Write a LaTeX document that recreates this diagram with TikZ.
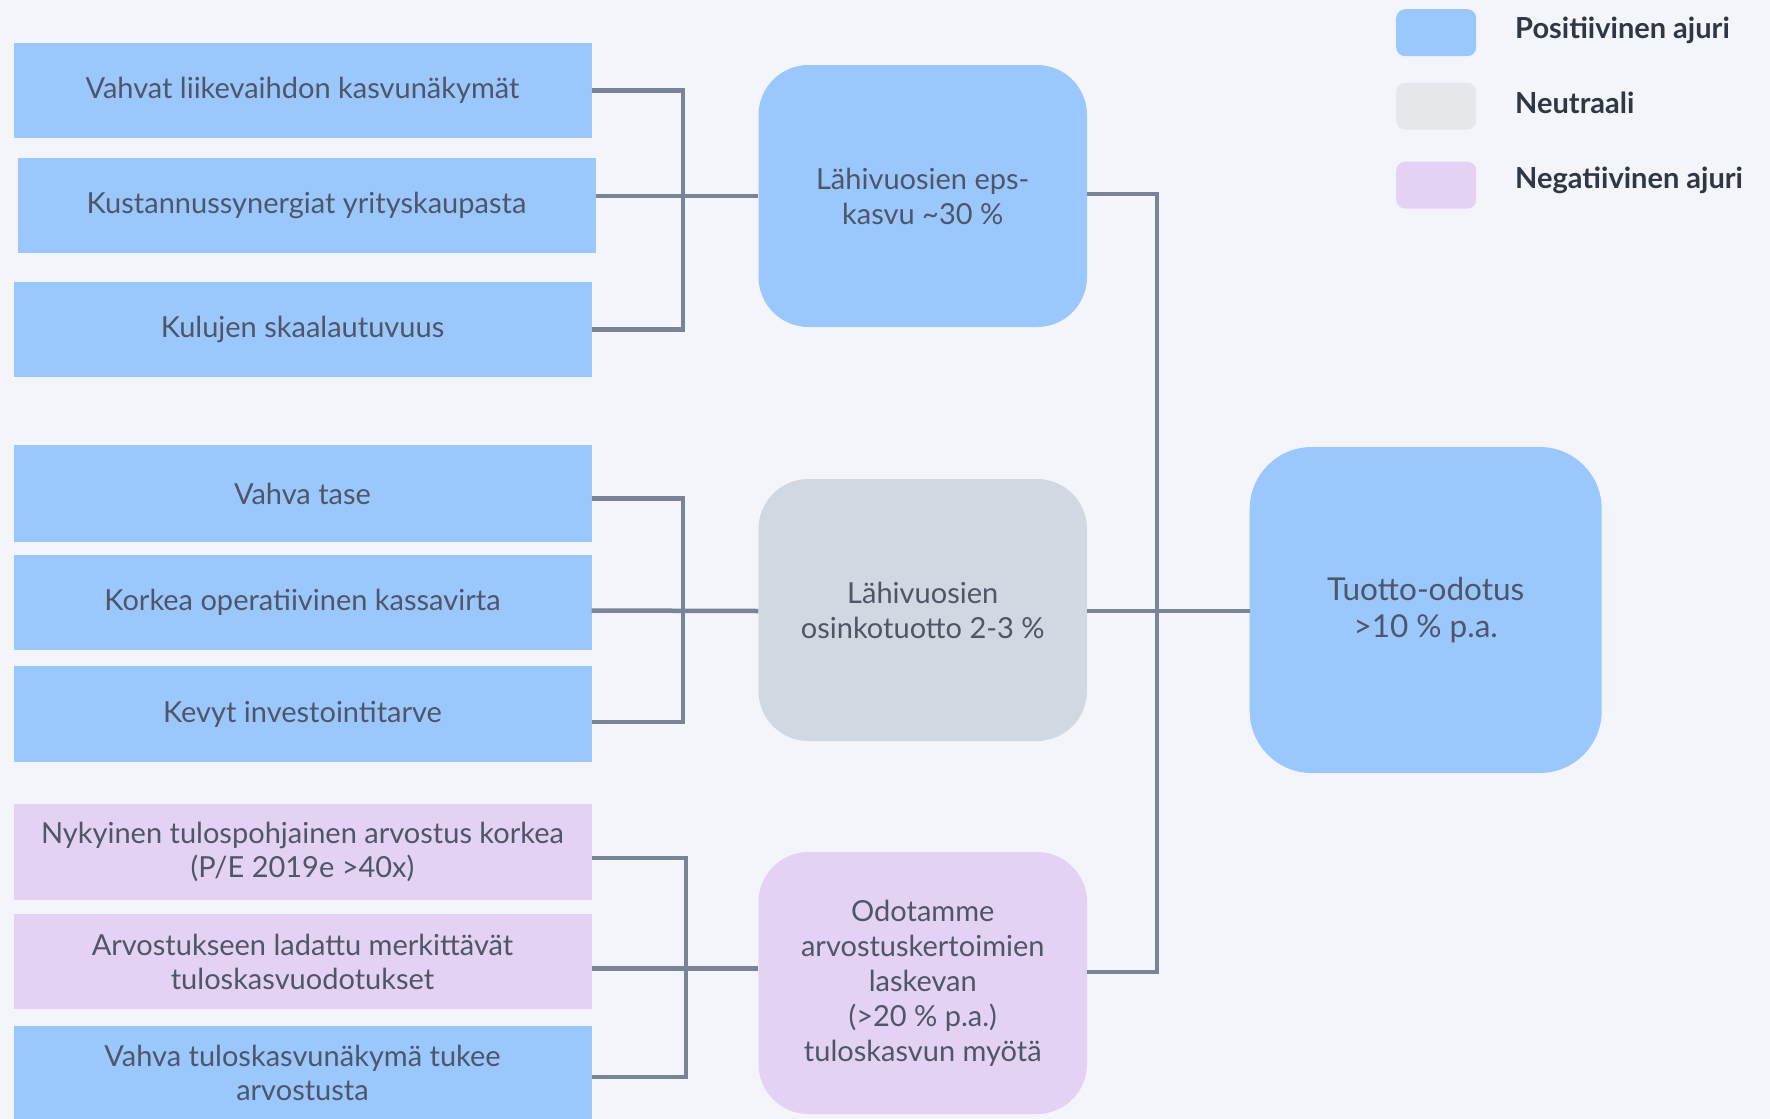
\documentclass[tikz,border=0pt]{standalone}
\usepackage{fontspec}
\setmainfont{Lato}
\definecolor{bg}{HTML}{F3F5FA}
\definecolor{pos}{HTML}{9AC8FE}
\definecolor{neu}{HTML}{D1D8E1}
\definecolor{neuleg}{HTML}{E5E7EB}
\definecolor{neg}{HTML}{E4D2F4}
\definecolor{txt}{HTML}{4E5667}
\definecolor{legtxt}{HTML}{2E3743}
\definecolor{ln}{HTML}{7A8398}
\tikzset{
  lbox/.style={rectangle, inner sep=0pt, minimum width=578pt, minimum height=95pt, align=center, text=txt, font=\fontsize{29}{34}\selectfont},
  mbox/.style={rectangle, rounded corners=50pt, inner sep=0pt, minimum width=328.5pt, minimum height=262pt, align=center, text=txt, font=\fontsize{29}{35}\selectfont},
  conn/.style={draw=ln, line width=4.5pt},
  swatch/.style={rectangle, rounded corners=9pt, inner sep=0pt, minimum width=80pt, minimum height=47pt},
  legtext/.style={anchor=west, inner sep=0pt, text=legtxt, font=\fontsize{29}{32}\selectfont\bfseries},
}
\begin{document}
\begin{tikzpicture}[x=1pt,y=-1pt]
\useasboundingbox (0,0) rectangle (1770,1119);
\fill[bg] (0,0) rectangle (1770,1119);

% left boxes
\node[lbox, fill=pos] (b1) at (302.5,90.5) {Vahvat liikevaihdon kasvunäkymät};
\node[lbox, fill=pos] (b2) at (306.5,205.5) {Kustannussynergiat yrityskaupasta};
\node[lbox, fill=pos] (b3) at (302.5,329.5) {Kulujen skaalautuvuus};
\node[lbox, fill=pos, minimum height=97pt] (b4) at (302.5,493.5) {Vahva tase};
\node[lbox, fill=pos] (b5) at (302.5,602.5) {Korkea operatiivinen kassavirta};
\node[lbox, fill=pos, minimum height=96pt] (b6) at (302.5,714) {Kevyt investointitarve};
\node[lbox, fill=neg, minimum height=96pt] (b7) at (302.5,852) {Nykyinen tulospohjainen arvostus korkea\\(P/E 2019e >40x)};
\node[lbox, fill=neg] (b8) at (302.5,961.5) {Arvostukseen ladattu merkittävät\\tuloskasvuodotukset};
\node[lbox, fill=pos, minimum height=93pt] (b9) at (302.5,1072.5) {Vahva tuloskasvunäkymä tukee\\arvostusta};

% middle boxes
\node[mbox, fill=pos] (m1) at (922.75,196) {Lähivuosien eps-\\kasvu \char`~30 \%};
\node[mbox, fill=neu] (m2) at (922.75,610) {Lähivuosien\\osinkotuotto 2-3 \%};
\node[mbox, fill=neg] (m3) at (922.75,983) {Odotamme\\arvostuskertoimien\\laskevan\\(>20 \% p.a.)\\tuloskasvun myötä};

% right box
\node[rectangle, rounded corners=62pt, inner sep=0pt, minimum width=352pt, minimum height=326pt, align=center, text=txt, font=\fontsize{31.5}{37}\selectfont, fill=pos] (r) at (1425.7,610) {Tuotto-odotus\\>10 \% p.a.};

% junctions
\coordinate (j1) at (683,196);
\coordinate (j2) at (683,611);
\coordinate (j3) at (686,968.5);
\coordinate (j4) at (1157,611);

% group 1
\draw[conn] (b1.east) -| (j1) |- (b3.east);
\draw[conn] (b2.east |- j1) -- (m1.west |- j1);
% group 2
\draw[conn] ([yshift=-5pt]b4.east) -| (j2) |- ([yshift=-8pt]b6.east);
\draw[conn] ([yshift=-8pt]b5.east) -- (m2.west |- j2);
% group 3
\draw[conn] ([yshift=-6pt]b7.east) -| (j3) |- ([yshift=-4.5pt]b9.east);
\draw[conn] ([yshift=-7pt]b8.east) -- (m3.west |- j3);
% right
\draw[conn] ([yshift=2pt]m1.east) -| (j4) |- ([yshift=11pt]m3.east);
\draw[conn] (m2.east |- j4) -- (r.west |- j4);

% legend
\node[swatch, fill=pos] (s1) at (1436.2,32.7) {};
\node[swatch, fill=neuleg] (s2) at (1436.2,106.1) {};
\node[swatch, fill=neg] (s3) at (1436.2,185.1) {};
\node[legtext] (l1) at (1515,30.5) {Positiivinen ajuri};
\node[legtext] (l2) at (1515,102.7) {Neutraali};
\node[legtext] (l3) at (1515,180.6) {Negatiivinen ajuri};
\end{tikzpicture}
\end{document}
